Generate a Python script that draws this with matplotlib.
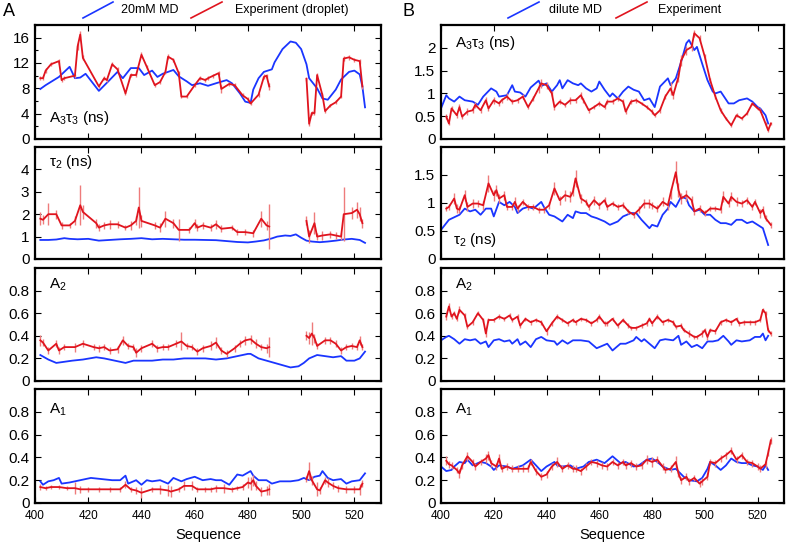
import numpy as np
import matplotlib
matplotlib.use("Agg")
import matplotlib.pyplot as plt
from matplotlib.lines import Line2D
from matplotlib.ticker import FuncFormatter, MultipleLocator

plt.rcParams['font.family'] = ['Liberation Sans', 'DejaVu Sans']
plt.rcParams['mathtext.fontset'] = 'custom'
plt.rcParams['mathtext.rm'] = 'Liberation Sans'
plt.rcParams['mathtext.it'] = 'Liberation Sans'

nan = np.nan
BLUE = '#1a35ff'
RED = '#e0141e'
LIGHT_RED = '#ee7b7b'

# ---------------- panel A : 20mM MD vs experiment (droplet) ----------------
a_md_tau3_x = [402, 404, 409, 411, 413, 415, 417, 419, 424, 428, 431, 433, 436, 439, 441, 444, 446, 448, 452, 454,
               457, 459, 462, 465, 468, 472, 474, 477, 479, 481, 482, 484, 486, 489, 490, 493, 496, 498, 500, 502,
               503, 506, 508, 510, 513, 515, 518, 520, 522, 523, 524]
a_md_tau3_y = [7.9, 8.5, 9.8, 10.6, 11.4, 9.6, 9.7, 10.3, 7.6, 9.3, 10.6, 9.6, 11.2, 11.2, 10.1, 10.8, 9.8, 10.3, 10.9, 9.9,
               9.1, 8.5, 8.8, 8.4, 8.8, 9.3, 8.8, 7.2, 5.9, 5.7, 7.8, 9.6, 10.6, 11.0, 12.1, 14.2, 15.4, 15.2, 14.2, 11.8,
               9.6, 8.0, 6.4, 6.2, 7.8, 9.4, 10.6, 10.8, 10.2, 8.3, 5.0]

a_exp_tau3_x = [402, 403, 404, 406, 409, 410, 411, 415, 416, 417, 418, 424, 426, 427, 429, 431, 434, 436, 438, 440,
                442, 445, 447, 449, 450, 452, 454, 455, 457, 460, 462, 464, 465, 467, 469, 470, 473, 475, 478, 480,
                481, 484, 486, 487, 488, 495, 502, 503, 504, 505, 506, 508, 509, 511, 513, 515, 516, 518, 520, 522, 523]
a_exp_tau3_y = [9.6, 9.6, 10.8, 11.8, 12.3, 9.3, 9.6, 10.0, 14.6, 16.5, 12.8, 8.3, 9.6, 9.3, 11.8, 11.0, 7.2, 10.1, 10.1, 13.3,
                11.4, 8.5, 9.0, 10.6, 13.0, 12.5, 10.4, 6.7, 6.7, 8.5, 9.6, 9.3, 9.6, 10.0, 10.4, 7.9, 8.7, 8.5, 6.9, 6.3,
                5.6, 7.0, 9.8, 10.0, 8.3, nan, 9.5, 2.4, 4.1, 4.1, 10.1, 6.9, 4.4, 5.3, 5.8, 6.7, 12.7, 12.9, 12.5, 12.3, 8.3]
a_exp_tau3_e = [0.3, 0.3, 0.4, 0.3, 0.4, 0.3, 0.3, 0.3, 0.5, 0.5, 0.4, 0.3, 0.3, 0.3, 0.3, 0.3, 0.3, 0.3, 0.3, 0.4,
                0.3, 0.3, 0.3, 0.3, 0.4, 0.3, 0.3, 0.3, 0.3, 0.3, 0.3, 0.3, 0.3, 0.3, 0.3, 0.6, 0.3, 0.3, 0.3, 0.3,
                0.3, 0.3, 0.4, 0.3, 0.5, nan, 0.3, 0.3, 0.3, 0.3, 0.3, 0.3, 0.3, 0.3, 0.3, 0.3, 0.4, 0.4, 0.3, 0.4, 0.4]

a_md_tau2_x = [402, 405, 408, 411, 413, 416, 420, 424, 428, 432, 436, 440, 444, 448, 452, 456, 460, 464, 468, 472,
               476, 480, 483, 486, 489, 491, 494, 496, 498, 500, 502, 504, 507, 510, 513, 516, 519, 522, 524]
a_md_tau2_y = [0.85, 0.85, 0.87, 0.93, 0.9, 0.88, 0.9, 0.82, 0.85, 0.88, 0.9, 0.93, 0.88, 0.9, 0.88, 0.86, 0.86, 0.85, 0.84, 0.8,
               0.76, 0.74, 0.78, 0.83, 0.92, 1.0, 1.05, 1.03, 1.1, 0.95, 0.82, 0.78, 0.75, 0.78, 0.82, 0.87, 0.9, 0.85, 0.72]

a_exp_tau2_x = [402, 403, 405, 408, 410, 413, 415, 417, 418, 423, 424, 426, 428, 431, 434, 436, 438, 439, 440, 445,
                447, 449, 452, 454, 458, 460, 461, 463, 466, 468, 470, 474, 476, 479, 482, 485, 487, 488, 495,
                502, 503, 505, 506, 508, 511, 513, 515, 516, 519, 521, 522, 523]
a_exp_tau2_y = [1.8, 1.75, 2.0, 2.0, 1.5, 1.5, 1.7, 2.4, 2.1, 1.6, 1.4, 1.5, 1.55, 1.55, 1.4, 1.5, 1.7, 2.3, 1.7, 1.5,
                1.4, 1.8, 1.6, 1.3, 1.3, 1.6, 1.4, 1.5, 1.4, 1.55, 1.35, 1.4, 1.2, 1.2, 1.15, 1.8, 1.5, 1.45, nan,
                1.7, 1.0, 1.6, 1.0, 1.05, 1.1, 1.05, 1.0, 2.0, 2.05, 2.2, 2.0, 1.6]
a_exp_tau2_e = [0.3, 0.2, 0.5, 0.2, 0.15, 0.1, 0.2, 0.9, 0.3, 0.2, 0.15, 0.15, 0.2, 0.15, 0.1, 0.2, 0.2, 0.9, 0.25, 0.15,
                0.2, 0.35, 0.2, 0.5, 0.15, 0.2, 0.15, 0.15, 0.15, 0.2, 0.15, 0.1, 0.15, 0.15, 0.15, 0.35, 0.2, 1.0, nan,
                0.2, 0.3, 0.5, 0.15, 0.2, 0.15, 0.15, 0.15, 1.2, 0.25, 0.35, 0.3, 0.2]

a_md_a2_x = [402, 405, 408, 411, 414, 418, 423, 426, 430, 434, 437, 440, 444, 448, 452, 456, 460, 464, 468, 472,
             476, 480, 481, 484, 487, 490, 493, 496, 499, 501, 503, 506, 509, 512, 515, 517, 520, 522, 524]
a_md_a2_y = [0.23, 0.19, 0.16, 0.17, 0.18, 0.19, 0.21, 0.2, 0.18, 0.16, 0.18, 0.18, 0.18, 0.19, 0.19, 0.2, 0.2, 0.2, 0.19, 0.2,
             0.22, 0.24, 0.24, 0.2, 0.18, 0.16, 0.14, 0.12, 0.13, 0.16, 0.2, 0.23, 0.22, 0.21, 0.22, 0.18, 0.18, 0.2, 0.26]

a_exp_a2_x = [402, 403, 405, 408, 409, 411, 415, 418, 422, 424, 426, 428, 431, 433, 435, 437, 438, 440, 444, 446,
              448, 450, 453, 455, 457, 459, 461, 463, 466, 468, 470, 472, 475, 477, 479, 481, 483, 485, 487, 488, 495,
              502, 503, 504, 505, 506, 509, 511, 513, 515, 517, 519, 521, 522, 523]
a_exp_a2_y = [0.36, 0.34, 0.27, 0.33, 0.27, 0.30, 0.30, 0.33, 0.30, 0.29, 0.30, 0.27, 0.28, 0.36, 0.31, 0.30, 0.25, 0.29, 0.33, 0.29,
              0.30, 0.30, 0.33, 0.35, 0.31, 0.30, 0.26, 0.29, 0.31, 0.34, 0.27, 0.24, 0.29, 0.33, 0.36, 0.37, 0.33, 0.30, 0.29, 0.30, nan,
              0.40, 0.38, 0.42, 0.38, 0.31, 0.36, 0.36, 0.33, 0.27, 0.30, 0.31, 0.30, 0.36, 0.30]
a_exp_a2_e = [0.05, 0.03, 0.03, 0.03, 0.03, 0.03, 0.04, 0.03, 0.03, 0.03, 0.03, 0.03, 0.03, 0.04, 0.03, 0.03, 0.04, 0.03, 0.03, 0.03,
              0.03, 0.03, 0.03, 0.08, 0.03, 0.03, 0.03, 0.03, 0.04, 0.05, 0.03, 0.03, 0.03, 0.03, 0.04, 0.04, 0.04, 0.03, 0.04, 0.09, nan,
              0.04, 0.05, 0.10, 0.04, 0.03, 0.03, 0.03, 0.03, 0.03, 0.03, 0.03, 0.03, 0.04, 0.03]

a_md_a1_x = [402, 403, 405, 407, 409, 410, 413, 417, 421, 425, 429, 432, 434, 435, 438, 440, 442, 444, 447, 450,
             452, 455, 457, 460, 463, 466, 468, 470, 473, 476, 478, 481, 482, 484, 487, 489, 492, 496, 499, 501,
             503, 505, 507, 508, 510, 512, 515, 517, 519, 522, 524]
a_md_a1_y = [0.19, 0.16, 0.19, 0.2, 0.22, 0.17, 0.18, 0.2, 0.22, 0.21, 0.2, 0.2, 0.24, 0.17, 0.2, 0.16, 0.2, 0.19, 0.2, 0.17,
             0.22, 0.19, 0.21, 0.23, 0.2, 0.21, 0.2, 0.2, 0.16, 0.25, 0.24, 0.28, 0.24, 0.2, 0.2, 0.17, 0.19, 0.19, 0.2, 0.22,
             0.2, 0.23, 0.24, 0.28, 0.22, 0.2, 0.21, 0.17, 0.19, 0.2, 0.26]

a_exp_a1_x = [402, 404, 406, 409, 412, 415, 417, 420, 424, 428, 432, 434, 436, 438, 440, 444, 447, 450, 451, 454,
              456, 459, 461, 464, 466, 468, 471, 474, 476, 478, 480, 481, 482, 483, 485, 487, 488, 495,
              502, 503, 504, 506, 507, 509, 510, 512, 514, 517, 520, 522, 523]
a_exp_a1_y = [0.14, 0.13, 0.14, 0.14, 0.13, 0.13, 0.12, 0.12, 0.12, 0.12, 0.12, 0.16, 0.12, 0.11, 0.09, 0.12, 0.12, 0.11, 0.10, 0.12,
              0.15, 0.15, 0.12, 0.12, 0.12, 0.13, 0.13, 0.12, 0.13, 0.14, 0.18, 0.17, 0.20, 0.15, 0.10, 0.11, 0.12, nan,
              0.21, 0.28, 0.20, 0.12, 0.11, 0.20, 0.18, 0.15, 0.13, 0.12, 0.12, 0.12, 0.17]
a_exp_a1_e = [0.03, 0.02, 0.02, 0.02, 0.02, 0.05, 0.03, 0.02, 0.02, 0.02, 0.02, 0.03, 0.02, 0.03, 0.05, 0.02, 0.04, 0.05, 0.05, 0.02,
              0.04, 0.04, 0.02, 0.02, 0.02, 0.03, 0.04, 0.02, 0.02, 0.03, 0.05, 0.06, 0.05, 0.04, 0.04, 0.04, 0.05, nan,
              0.03, 0.08, 0.04, 0.06, 0.03, 0.03, 0.04, 0.03, 0.03, 0.03, 0.03, 0.05, 0.03]

# ---------------- panel B : dilute MD vs experiment ----------------
b_md_tau3_x = [400, 402, 403, 405, 407, 409, 412, 414, 416, 419, 421, 422, 425, 427, 428, 430, 432, 434, 437, 438,
               440, 442, 444, 445, 446, 448, 450, 452, 453, 455, 457, 459, 460, 462, 464, 465, 467, 469, 471, 473,
               475, 477, 479, 481, 483, 486, 487, 489, 491, 493, 494, 496, 497, 499, 501, 503, 504, 506, 509, 511,
               513, 516, 518, 520, 521, 523, 524]
b_md_tau3_y = [0.67, 0.96, 0.89, 0.82, 0.93, 0.85, 0.82, 0.75, 0.93, 1.11, 1.04, 0.93, 0.96, 1.18, 1.04, 1.02, 0.93, 1.13, 1.28, 1.16,
               1.22, 1.04, 1.18, 1.29, 1.11, 1.29, 1.22, 1.18, 1.22, 1.11, 1.04, 1.11, 1.26, 1.08, 0.93, 1.00, 0.89, 1.04, 1.15, 1.08,
               1.04, 0.85, 0.89, 0.70, 1.15, 1.33, 1.18, 1.33, 1.69, 2.10, 2.17, 1.95, 2.02, 1.65, 1.29, 1.04, 1.00, 1.04, 0.78, 0.78,
               0.85, 0.89, 0.82, 0.70, 0.67, 0.52, 0.34]

b_exp_tau3_x = [402, 403, 404, 406, 407, 408, 410, 412, 413, 415, 417, 418, 420, 422, 423, 425, 427, 429, 431, 433,
                435, 437, 438, 440, 442, 443, 445, 447, 449, 451, 453, 454, 456, 458, 460, 462, 463, 465, 467, 469,
                470, 472, 474, 476, 478, 480, 481, 483, 485, 487, 488, 490, 491, 493, 495, 496, 498, 500, 502, 504,
                506, 508, 510, 512, 514, 516, 518, 520, 521, 523, 524, 525]
b_exp_tau3_y = [0.49, 0.34, 0.67, 0.52, 0.70, 0.49, 0.60, 0.63, 0.75, 0.63, 0.85, 0.67, 0.85, 0.78, 0.85, 0.93, 0.82, 0.85, 0.93, 0.70,
                0.89, 1.11, 1.22, 1.18, 1.00, 0.70, 0.82, 0.75, 0.85, 0.85, 0.96, 0.85, 0.63, 0.70, 0.78, 0.70, 0.82, 0.82, 0.89, 0.82,
                0.60, 0.82, 0.85, 0.78, 0.70, 0.60, 0.52, 0.63, 0.93, 1.11, 0.96, 1.36, 1.72, 1.95, 2.02, 2.32, 2.21, 1.80, 1.29, 0.93,
                0.63, 0.45, 0.30, 0.52, 0.45, 0.56, 0.78, 0.67, 0.63, 0.34, 0.19, 0.34]
b_exp_tau3_e = [0.05, 0.04, 0.06, 0.05, 0.06, 0.05, 0.08, 0.05, 0.06, 0.05, 0.08, 0.05, 0.08, 0.05, 0.06, 0.08, 0.06, 0.05, 0.06, 0.05,
                0.06, 0.10, 0.10, 0.08, 0.06, 0.06, 0.05, 0.05, 0.08, 0.06, 0.08, 0.06, 0.05, 0.05, 0.05, 0.05, 0.05, 0.05, 0.06, 0.05,
                0.05, 0.05, 0.05, 0.04, 0.05, 0.05, 0.04, 0.05, 0.06, 0.15, 0.08, 0.10, 0.12, 0.10, 0.08, 0.08, 0.06, 0.06, 0.05, 0.05,
                0.05, 0.04, 0.04, 0.04, 0.04, 0.04, 0.04, 0.04, 0.04, 0.04, 0.03, 0.03]

b_md_tau2_x = [400, 403, 407, 409, 411, 413, 415, 417, 419, 420, 422, 424, 426, 428, 429, 431, 433, 435, 438, 439,
               441, 443, 444, 446, 448, 450, 451, 453, 455, 457, 459, 462, 464, 467, 469, 472, 474, 476, 479, 480,
               482, 484, 486, 487, 489, 491, 493, 494, 496, 498, 500, 502, 504, 506, 508, 510, 512, 514, 516, 518,
               520, 522, 523, 524]
b_md_tau2_y = [0.52, 0.70, 0.79, 0.90, 0.85, 0.88, 0.79, 0.90, 0.90, 0.76, 1.02, 0.96, 1.02, 0.93, 0.82, 0.90, 0.93, 0.90, 1.02, 0.93,
               0.79, 0.76, 0.73, 0.67, 0.79, 0.73, 0.85, 0.82, 0.82, 0.76, 0.73, 0.67, 0.61, 0.67, 0.76, 0.82, 0.82, 0.70, 0.55, 0.61,
               0.58, 0.79, 0.90, 1.02, 0.93, 1.11, 1.08, 0.96, 0.85, 0.88, 0.79, 0.79, 0.70, 0.64, 0.64, 0.61, 0.70, 0.70, 0.64, 0.67,
               0.61, 0.55, 0.40, 0.25]

b_exp_tau2_x = [402, 403, 405, 406, 407, 409, 410, 412, 414, 416, 418, 420, 421, 422, 424, 425, 427, 428, 429, 431,
                433, 435, 437, 439, 441, 443, 445, 447, 449, 450, 451, 453, 455, 456, 458, 460, 462, 463, 465, 467,
                469, 471, 473, 475, 477, 479, 480, 482, 484, 486, 487, 489, 490, 491, 493, 495, 496, 498, 500, 502,
                504, 506, 507, 509, 510, 512, 514, 516, 518, 519, 521, 522, 523, 525]
b_exp_tau2_y = [0.90, 0.93, 1.08, 0.90, 0.88, 1.14, 0.93, 0.99, 0.99, 0.96, 1.35, 1.14, 1.23, 1.08, 1.14, 0.93, 0.93, 1.02, 0.90, 1.02,
                0.93, 0.93, 0.88, 0.88, 0.96, 1.26, 1.05, 1.14, 1.11, 1.20, 1.44, 1.08, 1.02, 0.93, 1.05, 0.96, 1.05, 0.93, 0.99, 0.93,
                0.96, 0.85, 0.79, 0.88, 0.99, 0.99, 0.96, 0.90, 1.02, 0.96, 1.17, 1.55, 1.23, 1.08, 1.14, 1.05, 0.85, 0.90, 0.82, 0.90,
                0.90, 0.88, 1.11, 0.99, 1.11, 1.02, 0.99, 1.05, 0.93, 1.02, 0.82, 0.88, 0.73, 0.61]
b_exp_tau2_e = [0.05, 0.05, 0.10, 0.08, 0.06, 0.10, 0.08, 0.08, 0.06, 0.08, 0.15, 0.10, 0.10, 0.08, 0.08, 0.06, 0.06, 0.08, 0.06, 0.06,
                0.06, 0.06, 0.05, 0.05, 0.06, 0.12, 0.08, 0.10, 0.10, 0.08, 0.15, 0.08, 0.06, 0.06, 0.08, 0.06, 0.06, 0.05, 0.05, 0.05,
                0.05, 0.05, 0.05, 0.06, 0.08, 0.08, 0.06, 0.06, 0.08, 0.08, 0.10, 0.20, 0.12, 0.10, 0.10, 0.08, 0.06, 0.06, 0.05, 0.05,
                0.05, 0.05, 0.10, 0.06, 0.08, 0.08, 0.06, 0.06, 0.06, 0.06, 0.08, 0.06, 0.06, 0.05]

b_md_a2_x = [400, 402, 403, 405, 407, 409, 411, 413, 415, 417, 418, 420, 422, 424, 426, 427, 429, 430, 432, 434,
             436, 438, 440, 443, 444, 446, 448, 450, 453, 456, 459, 462, 463, 465, 468, 470, 473, 474, 476, 477,
             479, 481, 483, 485, 488, 490, 491, 493, 495, 497, 499, 501, 503, 505, 507, 509, 510, 512, 514, 517,
             519, 521, 522, 523, 524]
b_md_a2_y = [0.36, 0.39, 0.40, 0.37, 0.33, 0.37, 0.36, 0.37, 0.33, 0.35, 0.30, 0.36, 0.37, 0.35, 0.36, 0.33, 0.37, 0.32, 0.35, 0.30,
             0.37, 0.39, 0.36, 0.35, 0.32, 0.36, 0.33, 0.36, 0.36, 0.35, 0.29, 0.32, 0.33, 0.27, 0.33, 0.33, 0.36, 0.39, 0.35, 0.37,
             0.33, 0.29, 0.36, 0.37, 0.36, 0.40, 0.32, 0.35, 0.30, 0.32, 0.29, 0.35, 0.35, 0.36, 0.40, 0.35, 0.32, 0.36, 0.35, 0.36,
             0.39, 0.39, 0.42, 0.36, 0.40]

b_exp_a2_x = [402, 403, 404, 405, 406, 407, 409, 410, 412, 414, 416, 417, 418, 420, 422, 424, 426, 427, 429, 430,
              432, 434, 436, 438, 440, 442, 444, 446, 448, 450, 451, 453, 455, 457, 459, 460, 462, 463, 465, 467,
              469, 471, 472, 474, 476, 478, 479, 480, 482, 484, 486, 488, 489, 491, 492, 494, 496, 497, 499, 500,
              501, 502, 504, 506, 508, 510, 512, 513, 515, 517, 519, 521, 522, 523, 524, 525]
b_exp_a2_y = [0.57, 0.66, 0.57, 0.60, 0.55, 0.63, 0.58, 0.48, 0.52, 0.60, 0.54, 0.42, 0.54, 0.54, 0.57, 0.55, 0.58, 0.54, 0.57, 0.49,
              0.55, 0.52, 0.54, 0.52, 0.44, 0.51, 0.57, 0.54, 0.51, 0.54, 0.52, 0.55, 0.54, 0.51, 0.54, 0.57, 0.51, 0.51, 0.55, 0.49,
              0.54, 0.49, 0.47, 0.47, 0.49, 0.51, 0.55, 0.51, 0.57, 0.52, 0.54, 0.52, 0.48, 0.49, 0.45, 0.42, 0.39, 0.39, 0.42, 0.45,
              0.39, 0.45, 0.44, 0.52, 0.54, 0.52, 0.55, 0.51, 0.52, 0.52, 0.52, 0.54, 0.63, 0.60, 0.45, 0.42]
b_exp_a2_e = [0.03, 0.03, 0.02, 0.02, 0.02, 0.03, 0.02, 0.02, 0.02, 0.02, 0.02, 0.03, 0.02, 0.02, 0.02, 0.02, 0.02, 0.02, 0.02, 0.02,
              0.02, 0.02, 0.02, 0.02, 0.03, 0.02, 0.02, 0.02, 0.02, 0.02, 0.02, 0.02, 0.02, 0.02, 0.02, 0.02, 0.02, 0.02, 0.02, 0.02,
              0.02, 0.02, 0.02, 0.02, 0.02, 0.02, 0.02, 0.02, 0.02, 0.02, 0.02, 0.02, 0.02, 0.02, 0.02, 0.03, 0.02, 0.02, 0.03, 0.02,
              0.03, 0.02, 0.02, 0.02, 0.02, 0.02, 0.02, 0.02, 0.02, 0.02, 0.02, 0.02, 0.02, 0.02, 0.02, 0.02]

b_md_a1_x = [400, 402, 404, 405, 407, 409, 410, 412, 415, 417, 419, 420, 422, 425, 427, 431, 434, 436, 438, 440,
             443, 444, 446, 449, 451, 454, 456, 459, 462, 464, 465, 468, 470, 473, 475, 478, 480, 482, 484, 487,
             489, 492, 494, 497, 499, 501, 502, 504, 506, 508, 510, 512, 514, 516, 518, 520, 522, 523, 524]
b_md_a1_y = [0.32, 0.28, 0.29, 0.32, 0.36, 0.35, 0.38, 0.33, 0.36, 0.35, 0.32, 0.29, 0.33, 0.32, 0.30, 0.33, 0.38, 0.33, 0.28, 0.32,
             0.36, 0.33, 0.32, 0.33, 0.30, 0.32, 0.36, 0.38, 0.35, 0.39, 0.41, 0.35, 0.36, 0.32, 0.33, 0.38, 0.39, 0.36, 0.32, 0.29,
             0.30, 0.23, 0.20, 0.19, 0.22, 0.30, 0.36, 0.33, 0.29, 0.33, 0.39, 0.36, 0.35, 0.35, 0.33, 0.32, 0.29, 0.33, 0.29]

b_exp_a1_x = [402, 403, 404, 406, 407, 408, 410, 412, 413, 415, 417, 418, 419, 421, 422, 423, 425, 427, 429, 431,
              433, 434, 436, 438, 440, 442, 444, 446, 448, 450, 451, 453, 455, 457, 459, 461, 463, 465, 467, 469,
              470, 472, 474, 476, 478, 480, 482, 484, 485, 487, 489, 490, 491, 493, 494, 496, 498, 499, 501, 502,
              504, 506, 508, 510, 512, 514, 516, 518, 520, 521, 523, 524, 525]
b_exp_a1_y = [0.37, 0.34, 0.33, 0.29, 0.26, 0.33, 0.41, 0.36, 0.32, 0.36, 0.39, 0.42, 0.35, 0.32, 0.39, 0.30, 0.32, 0.30, 0.30, 0.30,
              0.30, 0.36, 0.28, 0.23, 0.25, 0.32, 0.36, 0.30, 0.33, 0.30, 0.30, 0.28, 0.32, 0.36, 0.35, 0.33, 0.32, 0.36, 0.33, 0.36,
              0.33, 0.35, 0.32, 0.33, 0.38, 0.36, 0.38, 0.32, 0.29, 0.30, 0.36, 0.26, 0.20, 0.23, 0.19, 0.22, 0.17, 0.19, 0.23, 0.36,
              0.35, 0.39, 0.42, 0.46, 0.38, 0.42, 0.36, 0.35, 0.32, 0.30, 0.34, 0.44, 0.55]
b_exp_a1_e = [0.04, 0.03, 0.03, 0.03, 0.04, 0.03, 0.04, 0.03, 0.03, 0.03, 0.04, 0.04, 0.03, 0.03, 0.04, 0.03, 0.03, 0.03, 0.03, 0.03,
              0.03, 0.03, 0.03, 0.03, 0.03, 0.03, 0.04, 0.03, 0.03, 0.03, 0.03, 0.03, 0.03, 0.03, 0.03, 0.03, 0.03, 0.03, 0.03, 0.03,
              0.03, 0.03, 0.03, 0.03, 0.04, 0.04, 0.03, 0.03, 0.03, 0.03, 0.05, 0.03, 0.03, 0.03, 0.03, 0.03, 0.03, 0.03, 0.03, 0.03,
              0.03, 0.03, 0.03, 0.03, 0.03, 0.03, 0.03, 0.03, 0.03, 0.03, 0.03, 0.03, 0.03]

a_series = [
    (a_md_tau3_x, a_md_tau3_y, a_exp_tau3_x, a_exp_tau3_y, a_exp_tau3_e),
    (a_md_tau2_x, a_md_tau2_y, a_exp_tau2_x, a_exp_tau2_y, a_exp_tau2_e),
    (a_md_a2_x, a_md_a2_y, a_exp_a2_x, a_exp_a2_y, a_exp_a2_e),
    (a_md_a1_x, a_md_a1_y, a_exp_a1_x, a_exp_a1_y, a_exp_a1_e),
]
b_series = [
    (b_md_tau3_x, b_md_tau3_y, b_exp_tau3_x, b_exp_tau3_y, b_exp_tau3_e),
    (b_md_tau2_x, b_md_tau2_y, b_exp_tau2_x, b_exp_tau2_y, b_exp_tau2_e),
    (b_md_a2_x, b_md_a2_y, b_exp_a2_x, b_exp_a2_y, b_exp_a2_e),
    (b_md_a1_x, b_md_a1_y, b_exp_a1_x, b_exp_a1_y, b_exp_a1_e),
]

row_labels = ['A$_3$τ$_3$ (ns)', 'τ$_2$ (ns)', 'A$_2$', 'A$_1$']
a_ylims = [(0, 18), (0, 5), (0, 1), (0, 1)]
b_ylims = [(0, 2.5), (0, 2), (0, 1), (0, 1)]
a_yticks = [[0, 4, 8, 12, 16], [0, 1, 2, 3, 4], [0, 0.2, 0.4, 0.6, 0.8], [0, 0.2, 0.4, 0.6, 0.8]]
b_yticks = [[0, 0.5, 1, 1.5, 2], [0, 0.5, 1, 1.5], [0, 0.2, 0.4, 0.6, 0.8], [0, 0.2, 0.4, 0.6, 0.8]]
xticks = [400, 420, 440, 460, 480, 500, 520]

W, H = 787, 546
fig = plt.figure(figsize=(W / 100, H / 100), dpi=100)

# axes boxes in pixels: (left, right) per column, (top, bottom) per row
cols = [(35, 381), (441, 784)]
rows = [(25, 139), (147, 259), (268, 381), (389, 503)]
# label anchor (x frac, y frac) per column / row
a_lab = [(0.04, 0.18), (0.04, 0.87), (0.04, 0.85), (0.04, 0.82)]
b_lab = [(0.04, 0.84), (0.035, 0.17), (0.04, 0.85), (0.04, 0.82)]

fmt = FuncFormatter(lambda v, p: '%g' % v)

for ci, (series, ylims, yticks, labpos) in enumerate([(a_series, a_ylims, a_yticks, a_lab),
                                                      (b_series, b_ylims, b_yticks, b_lab)]):
    l, r = cols[ci]
    for ri in range(4):
        t, b = rows[ri]
        ax = fig.add_axes([l / W, 1 - b / H, (r - l) / W, (b - t) / H])
        mx, my, ex, ey, ee = series[ri]
        ax.plot(mx, my, color=BLUE, lw=1.3)
        ax.errorbar(ex, ey, yerr=ee, color=RED, ecolor=LIGHT_RED, elinewidth=1.0,
                    lw=1.3, capsize=0)
        ax.set_xlim(400, 530)
        ax.set_ylim(*ylims[ri])
        ax.set_xticks(xticks)
        ax.set_yticks(yticks[ri])
        ax.yaxis.set_major_formatter(fmt)
        if ci == 0 and ri == 0:
            ax.yaxis.set_minor_locator(MultipleLocator(2))
        ax.tick_params(direction='in', top=True, right=True, length=4, width=0.8,
                       labelsize=11, pad=4)
        ax.tick_params(which='minor', direction='in', right=True, length=2.5, width=0.8)
        ax.tick_params(axis='x', labelsize=8.5, pad=5)
        if ri < 3:
            ax.tick_params(axis='x', labelbottom=False)
        else:
            ax.set_xlabel('Sequence', fontsize=10.5, labelpad=4)
        for s in ax.spines.values():
            s.set_linewidth(1.6)
        ax.text(labpos[ri][0], labpos[ri][1], row_labels[ri], transform=ax.transAxes,
                fontsize=11, ha='left', va='center')

# panel letters
fig.text(3 / W, 1 - 11 / H, 'A', fontsize=13, ha='left', va='center')
fig.text(403 / W, 1 - 11 / H, 'B', fontsize=13, ha='left', va='center')

# legends drawn gnuplot-style above each column
legends = [
    [(83, 113, BLUE, '20mM MD', 121), (191, 222, RED, 'Experiment (droplet)', 235)],
    [(508, 539, BLUE, 'dilute MD', 549), (616, 647, RED, 'Experiment', 658)],
]
for group in legends:
    for x0, x1, c, txt, tx in group:
        fig.add_artist(Line2D([x0 / W, x1 / W], [1 - 18 / H, 1 - 2 / H], color=c, lw=1.2,
                              transform=fig.transFigure))
        fig.text(tx / W, 1 - 10 / H, txt, fontsize=9, ha='left', va='center')

fig.savefig('out.png', dpi=100)
